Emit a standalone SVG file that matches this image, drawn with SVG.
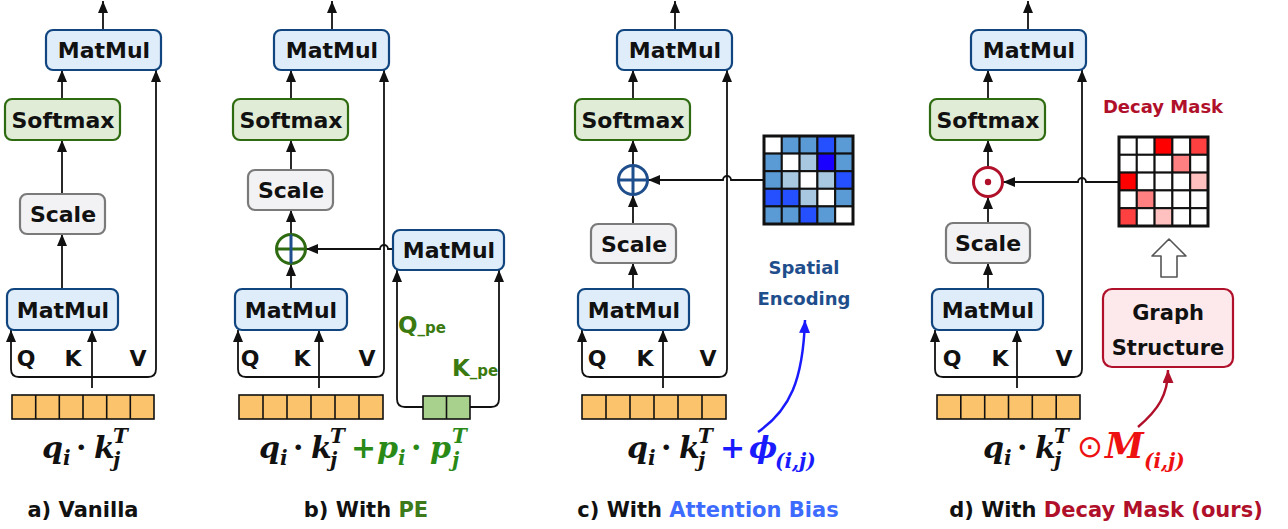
<svg xmlns="http://www.w3.org/2000/svg" width="1288" height="529" viewBox="0 0 1288 529">
<style>
.lbl{font-family:"DejaVu Sans","Liberation Sans",sans-serif;font-weight:bold;fill:#111;}
.box{font-size:22px;text-anchor:middle;}
.mm{fill:#dfedfb;stroke:#10457f;stroke-width:2.2;}
.sm{fill:#e0ecd6;stroke:#2e6b10;stroke-width:2.2;}
.sc{fill:#f2f2f4;stroke:#7a7a7a;stroke-width:2.2;}
.qkv{font-size:22px;text-anchor:middle;}
.cap{font-size:21px;text-anchor:middle;}
.fm{font-family:"DejaVu Serif","Liberation Serif",serif;font-weight:bold;font-style:italic;font-size:30px;fill:#111;}
.sub{font-size:20px;}
.up{font-style:normal;}
.conn path{fill:none;stroke:#111;stroke-width:1.8;}
.emb rect{fill:#fbc46c;stroke:#111;stroke-width:1.6;}
.emb line{stroke:#111;stroke-width:1.6;}
.grid rect{stroke:#111;stroke-width:2;}
</style>
<defs>
<marker id="ah" markerUnits="userSpaceOnUse" markerWidth="13" markerHeight="11" refX="12" refY="5" orient="auto-start-reverse"><path d="M0,0 L12,5 L0,10 z" fill="#111"/></marker>
<marker id="ahb" markerUnits="userSpaceOnUse" markerWidth="14" markerHeight="12" refX="13" refY="5.5" orient="auto"><path d="M0,0 L13,5.5 L0,11 z" fill="#1a1aff"/></marker>
<marker id="ahr" markerUnits="userSpaceOnUse" markerWidth="14" markerHeight="12" refX="13" refY="5.5" orient="auto"><path d="M0,0 L13,5.5 L0,11 z" fill="#b0102a"/></marker>
</defs>

<!-- connectors -->
<g id="connectors" class="conn">
<!-- panel a -->
<path d="M103,30 V1" marker-end="url(#ah)"/>
<path d="M62,99 V70" marker-end="url(#ah)"/>
<path d="M62,194 V140" marker-end="url(#ah)"/>
<path d="M62,289 V234" marker-end="url(#ah)"/>
<path d="M92,388 V330" marker-end="url(#ah)"/>
<path d="M11,330 V369 Q11,377 19,377 H148 Q156,377 156,369 V70" marker-start="url(#ah)" marker-end="url(#ah)"/>
<!-- panel b -->
<path d="M332,30 V1" marker-end="url(#ah)"/>
<path d="M291,99 V70" marker-end="url(#ah)"/>
<path d="M291,170 V140" marker-end="url(#ah)"/>
<path d="M291,234 V210" marker-end="url(#ah)"/>
<path d="M291,289 V264" marker-end="url(#ah)"/>
<path d="M319,388 V330" marker-end="url(#ah)"/>
<path d="M238,330 V369 Q238,377 246,377 H376 Q384,377 384,369 V70" marker-start="url(#ah)" marker-end="url(#ah)"/>
<path d="M393,249 H388 A4,4 0 0 0 380,249 H306" marker-end="url(#ah)"/>
<path d="M397,270 V399 Q397,407 405,407 H423" marker-start="url(#ah)"/>
<path d="M470,407 H491 Q499,407 499,399 V270" marker-end="url(#ah)"/>
<!-- panel c -->
<path d="M675,30 V1" marker-end="url(#ah)"/>
<path d="M633,99 V70" marker-end="url(#ah)"/>
<path d="M633,165 V140" marker-end="url(#ah)"/>
<path d="M633,224 V195" marker-end="url(#ah)"/>
<path d="M633,289 V263" marker-end="url(#ah)"/>
<path d="M663,388 V330" marker-end="url(#ah)"/>
<path d="M582,330 V369 Q582,377 590,377 H719 Q727,377 727,369 V70" marker-start="url(#ah)" marker-end="url(#ah)"/>
<path d="M764,180 H731 A4,4 0 0 0 723,180 H648" marker-end="url(#ah)"/>
<path d="M758,432 C790,410 803,380 805,320" style="stroke:#1a1aff;stroke-width:2.5" marker-end="url(#ahb)"/>
<!-- panel d -->
<path d="M1028,30 V1" marker-end="url(#ah)"/>
<path d="M988,99 V70" marker-end="url(#ah)"/>
<path d="M988,167 V140" marker-end="url(#ah)"/>
<path d="M988,223 V197" marker-end="url(#ah)"/>
<path d="M988,289 V263" marker-end="url(#ah)"/>
<path d="M1017,388 V330" marker-end="url(#ah)"/>
<path d="M935,330 V369 Q935,377 943,377 H1074 Q1082,377 1082,369 V70" marker-start="url(#ah)" marker-end="url(#ah)"/>
<path d="M1119,182 H1086 A4,4 0 0 0 1078,182 H1003" marker-end="url(#ah)"/>
<path d="M1138,427 C1158,410 1168,395 1168,370" style="stroke:#b0102a;stroke-width:2.5" marker-end="url(#ahr)"/>
<path d="M1169,239 L1152,256 L1161,256 L1161,277 L1177,277 L1177,256 L1186,256 Z" style="fill:#fff;stroke:#555;stroke-width:1.6;stroke-linejoin:round"/>
</g>

<!-- ===== Panel a ===== -->
<g id="a-matmul-top"><rect class="mm" x="46" y="30" width="115" height="40" rx="7"/><text class="lbl box" x="104" y="58">MatMul</text></g>
<g id="a-softmax"><rect class="sm" x="5" y="99" width="115" height="41" rx="7"/><text class="lbl box" x="63" y="128">Softmax</text></g>
<g id="a-scale"><rect class="sc" x="20" y="194" width="85" height="40" rx="7"/><text class="lbl box" x="63" y="222">Scale</text></g>
<g id="a-matmul-low"><rect class="mm" x="7" y="289" width="111" height="41" rx="7"/><text class="lbl box" x="63" y="318">MatMul</text></g>
<g id="a-qkv"><text class="lbl qkv" x="26" y="366">Q</text><text class="lbl qkv" x="73" y="366">K</text><text class="lbl qkv" x="138" y="366">V</text></g>
<g id="a-emb" class="emb"><rect x="12" y="395" width="142" height="24"/><line x1="35.7" y1="395" x2="35.7" y2="419"/><line x1="59.3" y1="395" x2="59.3" y2="419"/><line x1="83" y1="395" x2="83" y2="419"/><line x1="106.7" y1="395" x2="106.7" y2="419"/><line x1="130.3" y1="395" x2="130.3" y2="419"/></g>
<g id="a-formula"><text class="fm" y="458"><tspan x="42">q</tspan><tspan x="63" y="465" class="sub">i</tspan><tspan x="76" y="458" class="up">·</tspan><tspan x="94" y="458">k</tspan><tspan x="113" y="443" class="sub">T</tspan><tspan x="113" y="467" class="sub">j</tspan></text></g>
<g id="a-caption"><text class="lbl cap" x="83" y="517">a) Vanilla</text></g>

<!-- ===== Panel b ===== -->
<g id="b-matmul-top"><rect class="mm" x="274" y="30" width="115" height="40" rx="7"/><text class="lbl box" x="332" y="58">MatMul</text></g>
<g id="b-softmax"><rect class="sm" x="233" y="99" width="115" height="41" rx="7"/><text class="lbl box" x="291" y="128">Softmax</text></g>
<g id="b-scale"><rect class="sc" x="248" y="170" width="85" height="40" rx="7"/><text class="lbl box" x="291" y="198">Scale</text></g>
<g id="b-oplus"><circle cx="291" cy="249" r="14.5" fill="#fff" stroke="#2e6b10" stroke-width="3"/><line x1="276.5" y1="249" x2="305.5" y2="249" stroke="#2e6b10" stroke-width="3"/><line x1="291" y1="234.5" x2="291" y2="263.5" stroke="#1f4e8c" stroke-width="3"/></g>
<g id="b-matmul-pe"><rect class="mm" x="393" y="230" width="111" height="40" rx="7"/><text class="lbl box" x="449" y="258">MatMul</text></g>
<g id="b-matmul-low"><rect class="mm" x="235" y="289" width="112" height="41" rx="7"/><text class="lbl box" x="291" y="318">MatMul</text></g>
<g id="b-qkv"><text class="lbl qkv" x="250" y="366">Q</text><text class="lbl qkv" x="302" y="366">K</text><text class="lbl qkv" x="367" y="366">V</text></g>
<g id="b-pe-labels"><text class="lbl" x="398" y="333" style="fill:#3b7a10;font-size:23px">Q<tspan style="font-size:15px">_pe</tspan></text><text class="lbl" x="452" y="376" style="fill:#3b7a10;font-size:23px">K<tspan style="font-size:15px">_pe</tspan></text></g>
<g id="b-emb" class="emb"><rect x="239" y="395" width="144" height="24"/><line x1="263" y1="395" x2="263" y2="419"/><line x1="287" y1="395" x2="287" y2="419"/><line x1="311" y1="395" x2="311" y2="419"/><line x1="335" y1="395" x2="335" y2="419"/><line x1="359" y1="395" x2="359" y2="419"/></g>
<g id="b-pe-emb"><rect x="423" y="396" width="47" height="23" fill="#a9d18e" stroke="#111" stroke-width="1.6"/><line x1="446.5" y1="396" x2="446.5" y2="419" stroke="#111" stroke-width="1.6"/></g>
<g id="b-formula"><text class="fm" y="458"><tspan x="259">q</tspan><tspan x="280" y="465" class="sub">i</tspan><tspan x="293" y="458" class="up">·</tspan><tspan x="311" y="458">k</tspan><tspan x="330" y="443" class="sub">T</tspan><tspan x="330" y="467" class="sub">j</tspan><tspan x="351" y="458" class="up" fill="#2a8a18">+</tspan><tspan x="377" y="458" fill="#2a8a18">p</tspan><tspan x="398" y="465" class="sub" fill="#2a8a18">i</tspan><tspan x="411" y="458" class="up" fill="#2a8a18">·</tspan><tspan x="430" y="458" fill="#2a8a18">p</tspan><tspan x="452" y="443" class="sub" fill="#2a8a18">T</tspan><tspan x="452" y="467" class="sub" fill="#2a8a18">j</tspan></text></g>
<g id="b-caption"><text class="lbl cap" x="366" y="517">b) With <tspan fill="#3d7a1a">PE</tspan></text></g>

<!-- ===== Panel c ===== -->
<g id="c-matmul-top"><rect class="mm" x="617" y="30" width="115" height="40" rx="7"/><text class="lbl box" x="675" y="58">MatMul</text></g>
<g id="c-softmax"><rect class="sm" x="575" y="99" width="115" height="41" rx="7"/><text class="lbl box" x="633" y="128">Softmax</text></g>
<g id="c-oplus"><circle cx="633" cy="180" r="14.5" fill="#fff" stroke="#1f4e8c" stroke-width="3"/><line x1="618.5" y1="180" x2="647.5" y2="180" stroke="#1f4e8c" stroke-width="3"/><line x1="633" y1="165.5" x2="633" y2="194.5" stroke="#1f4e8c" stroke-width="3"/></g>
<g id="c-scale"><rect class="sc" x="591" y="224" width="85" height="39" rx="7"/><text class="lbl box" x="634" y="252">Scale</text></g>
<g id="c-matmul-low"><rect class="mm" x="578" y="289" width="111" height="41" rx="7"/><text class="lbl box" x="634" y="318">MatMul</text></g>
<g id="c-qkv"><text class="lbl qkv" x="597" y="366">Q</text><text class="lbl qkv" x="645" y="366">K</text><text class="lbl qkv" x="708" y="366">V</text></g>
<g id="c-emb" class="emb"><rect x="582" y="395" width="144" height="24"/><line x1="606" y1="395" x2="606" y2="419"/><line x1="630" y1="395" x2="630" y2="419"/><line x1="654" y1="395" x2="654" y2="419"/><line x1="678" y1="395" x2="678" y2="419"/><line x1="702" y1="395" x2="702" y2="419"/></g>
<g id="c-grid" class="grid">
<rect x="764" y="136" width="17.8" height="17.6" fill="#ffffff"/><rect x="781.8" y="136" width="17.8" height="17.6" fill="#5b9bd5"/><rect x="799.6" y="136" width="17.8" height="17.6" fill="#5b9bd5"/><rect x="817.4" y="136" width="17.8" height="17.6" fill="#2450ff"/><rect x="835.2" y="136" width="17.8" height="17.6" fill="#5b9bd5"/>
<rect x="764" y="153.6" width="17.8" height="17.6" fill="#5b9bd5"/><rect x="781.8" y="153.6" width="17.8" height="17.6" fill="#ffffff"/><rect x="799.6" y="153.6" width="17.8" height="17.6" fill="#a7c8e0"/><rect x="817.4" y="153.6" width="17.8" height="17.6" fill="#1a00ff"/><rect x="835.2" y="153.6" width="17.8" height="17.6" fill="#5b9bd5"/>
<rect x="764" y="171.2" width="17.8" height="17.6" fill="#5b9bd5"/><rect x="781.8" y="171.2" width="17.8" height="17.6" fill="#a7c8e0"/><rect x="799.6" y="171.2" width="17.8" height="17.6" fill="#ffffff"/><rect x="817.4" y="171.2" width="17.8" height="17.6" fill="#a7c8e0"/><rect x="835.2" y="171.2" width="17.8" height="17.6" fill="#2450ff"/>
<rect x="764" y="188.8" width="17.8" height="17.6" fill="#2450ff"/><rect x="781.8" y="188.8" width="17.8" height="17.6" fill="#2450ff"/><rect x="799.6" y="188.8" width="17.8" height="17.6" fill="#a7c8e0"/><rect x="817.4" y="188.8" width="17.8" height="17.6" fill="#ffffff"/><rect x="835.2" y="188.8" width="17.8" height="17.6" fill="#5b9bd5"/>
<rect x="764" y="206.4" width="17.8" height="17.6" fill="#5b9bd5"/><rect x="781.8" y="206.4" width="17.8" height="17.6" fill="#5b9bd5"/><rect x="799.6" y="206.4" width="17.8" height="17.6" fill="#2450ff"/><rect x="817.4" y="206.4" width="17.8" height="17.6" fill="#5b9bd5"/><rect x="835.2" y="206.4" width="17.8" height="17.6" fill="#ffffff"/>
<rect x="764" y="136" width="89" height="88" fill="none" style="stroke-width:3"/>
</g>
<g id="c-spatial"><text class="lbl" x="804" y="274" style="font-size:18px;text-anchor:middle;fill:#1f4e8c">Spatial</text><text class="lbl" x="804" y="305" style="font-size:18px;text-anchor:middle;fill:#1f4e8c">Encoding</text></g>
<g id="c-formula"><text class="fm" y="458"><tspan x="627">q</tspan><tspan x="648" y="465" class="sub">i</tspan><tspan x="661" y="458" class="up">·</tspan><tspan x="679" y="458">k</tspan><tspan x="698" y="443" class="sub">T</tspan><tspan x="698" y="467" class="sub">j</tspan><tspan x="720" y="458" class="up" fill="#1a1aff">+</tspan><tspan x="749" y="458" fill="#1a1aff">ϕ</tspan><tspan x="775" y="468" fill="#1a1aff" class="sub">(i,j)</tspan></text></g>
<g id="c-caption"><text class="lbl cap" x="708" y="517">c) With <tspan fill="#3d6bff">Attention Bias</tspan></text></g>

<!-- ===== Panel d ===== -->
<g id="d-matmul-top"><rect class="mm" x="971" y="30" width="115" height="40" rx="7"/><text class="lbl box" x="1029" y="58">MatMul</text></g>
<g id="d-softmax"><rect class="sm" x="930" y="99" width="115" height="41" rx="7"/><text class="lbl box" x="988" y="128">Softmax</text></g>
<g id="d-odot"><circle cx="988" cy="182" r="14.5" fill="#fff" stroke="#b0102a" stroke-width="3"/><circle cx="988" cy="182" r="3.2" fill="#b0102a"/></g>
<g id="d-scale"><rect class="sc" x="946" y="223" width="84" height="40" rx="7"/><text class="lbl box" x="988" y="251">Scale</text></g>
<g id="d-matmul-low"><rect class="mm" x="932" y="289" width="111" height="41" rx="7"/><text class="lbl box" x="988" y="318">MatMul</text></g>
<g id="d-qkv"><text class="lbl qkv" x="952" y="366">Q</text><text class="lbl qkv" x="1000" y="366">K</text><text class="lbl qkv" x="1064" y="366">V</text></g>
<g id="d-emb" class="emb"><rect x="937" y="395" width="143" height="24"/><line x1="960.8" y1="395" x2="960.8" y2="419"/><line x1="984.7" y1="395" x2="984.7" y2="419"/><line x1="1008.5" y1="395" x2="1008.5" y2="419"/><line x1="1032.3" y1="395" x2="1032.3" y2="419"/><line x1="1056.2" y1="395" x2="1056.2" y2="419"/></g>
<g id="d-decay-label"><text class="lbl" x="1163" y="113" style="font-size:18px;text-anchor:middle;fill:#b0102a">Decay Mask</text></g>
<g id="d-grid" class="grid">
<rect x="1119" y="137" width="17.8" height="17.8" fill="#ffffff"/><rect x="1136.8" y="137" width="17.8" height="17.8" fill="#ffffff"/><rect x="1154.6" y="137" width="17.8" height="17.8" fill="#ff0000"/><rect x="1172.4" y="137" width="17.8" height="17.8" fill="#ffffff"/><rect x="1190.2" y="137" width="17.8" height="17.8" fill="#ff4040"/>
<rect x="1119" y="154.8" width="17.8" height="17.8" fill="#ffffff"/><rect x="1136.8" y="154.8" width="17.8" height="17.8" fill="#ffffff"/><rect x="1154.6" y="154.8" width="17.8" height="17.8" fill="#ffffff"/><rect x="1172.4" y="154.8" width="17.8" height="17.8" fill="#ff8080"/><rect x="1190.2" y="154.8" width="17.8" height="17.8" fill="#ffffff"/>
<rect x="1119" y="172.6" width="17.8" height="17.8" fill="#ff0000"/><rect x="1136.8" y="172.6" width="17.8" height="17.8" fill="#ffffff"/><rect x="1154.6" y="172.6" width="17.8" height="17.8" fill="#ffffff"/><rect x="1172.4" y="172.6" width="17.8" height="17.8" fill="#ffffff"/><rect x="1190.2" y="172.6" width="17.8" height="17.8" fill="#ffc0c0"/>
<rect x="1119" y="190.4" width="17.8" height="17.8" fill="#ffffff"/><rect x="1136.8" y="190.4" width="17.8" height="17.8" fill="#ff8080"/><rect x="1154.6" y="190.4" width="17.8" height="17.8" fill="#ffffff"/><rect x="1172.4" y="190.4" width="17.8" height="17.8" fill="#ffffff"/><rect x="1190.2" y="190.4" width="17.8" height="17.8" fill="#ffffff"/>
<rect x="1119" y="208.2" width="17.8" height="17.8" fill="#ff4040"/><rect x="1136.8" y="208.2" width="17.8" height="17.8" fill="#ffffff"/><rect x="1154.6" y="208.2" width="17.8" height="17.8" fill="#ffc0c0"/><rect x="1172.4" y="208.2" width="17.8" height="17.8" fill="#ffffff"/><rect x="1190.2" y="208.2" width="17.8" height="17.8" fill="#ffffff"/>
<rect x="1119" y="137" width="89" height="89" fill="none" style="stroke-width:3"/>
</g>
<g id="d-graph"><rect x="1103" y="289" width="130" height="78" rx="9" fill="#fde9ec" stroke="#b0102a" stroke-width="2.2"/><text class="lbl" x="1168" y="320" style="font-size:21px;text-anchor:middle">Graph</text><text class="lbl" x="1168" y="355" style="font-size:21px;text-anchor:middle">Structure</text></g>
<g id="d-formula"><text class="fm" y="458"><tspan x="983">q</tspan><tspan x="1004" y="465" class="sub">i</tspan><tspan x="1017" y="458" class="up">·</tspan><tspan x="1035" y="458">k</tspan><tspan x="1054" y="443" class="sub">T</tspan><tspan x="1054" y="467" class="sub">j</tspan><tspan x="1077" y="457" fill="#ee1111" style="font-family:'DejaVu Sans',sans-serif;font-style:normal;font-weight:normal;font-size:31px">⊙</tspan><tspan x="1105" y="458" fill="#ee1111" style="font-size:35px">M</tspan><tspan x="1144" y="468" fill="#ee1111" class="sub">(i,j)</tspan></text></g>
<g id="d-caption"><text class="lbl cap" x="1106" y="517">d) With <tspan fill="#b0102a">Decay Mask (ours)</tspan></text></g>
</svg>
